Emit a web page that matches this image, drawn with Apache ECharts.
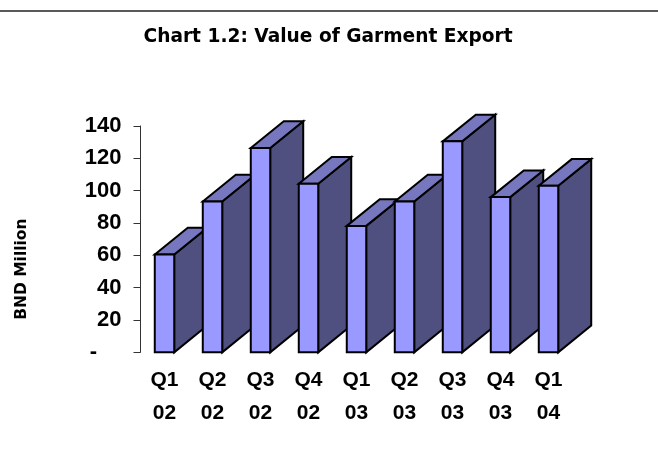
<!DOCTYPE html>
<html>
<head>
<meta charset="utf-8">
<style>html,body{margin:0;padding:0;background:#fff}#c{width:658px;height:459px}</style>
<script src="https://cdn.jsdelivr.net/npm/echarts@6/dist/echarts.min.js"></script>
</head>
<body>
<div id="c"></div>
<script>
const categories = ["Q1\n02","Q2\n02","Q3\n02","Q4\n02","Q1\n03","Q2\n03","Q3\n03","Q4\n03","Q1\n04"];
const values = [60.5,93.3,126.4,104.3,78.2,93.3,130.5,96,103];
const yTicks = {min:0,max:140,interval:20};
const titleText = "Chart 1.2: Value of Garment Export";
const yName = "BND Million";

const chart = echarts.init(document.getElementById('c'),null,{renderer:'canvas'});
const DX = 33, DY = 26.7;
const line = {stroke:'#000',lineWidth:2,lineJoin:'miter'};
function renderItem(params, api){
  const i = api.value(0), v = api.value(1);
  const top = api.coord([i,v]), base = api.coord([i,0]);
  const w = api.size([1,0])[0]*0.405;
  const x0 = top[0]-w/2, x1 = top[0]+w/2, yT = top[1], yB = base[1];
  const poly = (pts,fill)=>({type:'polygon',shape:{points:pts},style:Object.assign({fill},line)});
  return {type:'group',children:[
    poly([[x1,yT],[x1+DX,yT-DY],[x1+DX,yB-DY],[x1,yB]],'#4F4F80'),
    poly([[x0,yT],[x0+DX,yT-DY],[x1+DX,yT-DY],[x1,yT]],'#7777BF'),
    poly([[x0,yT],[x1,yT],[x1,yB],[x0,yB]],'#9999FF')
  ]};
}
chart.setOption({
  animation:false,
  backgroundColor:'#fff',
  title:{text:titleText,left:143.5,top:27.5,padding:0,
    textStyle:{fontFamily:'DejaVu Sans',fontWeight:'bold',fontSize:18.6,color:'#000'}},
  grid:{left:140.5,top:126,width:432,height:226.3,containLabel:false},
  xAxis:{type:'category',data:categories,
    axisLine:{show:false},axisTick:{show:false},
    axisLabel:{interval:0,margin:11,lineHeight:33.5,fontFamily:'Liberation Sans',fontWeight:'bold',fontSize:21,color:'#000'}},
  yAxis:{type:'value',min:yTicks.min,max:yTicks.max,interval:yTicks.interval,
    name:yName,nameLocation:'middle',nameGap:111,nameRotate:90,
    nameTextStyle:{fontFamily:'DejaVu Sans',fontWeight:'bold',fontSize:15.5,color:'#000',padding:[0,60,0,0]},
    splitLine:{show:false},
    axisLine:{show:true,lineStyle:{color:'#333',width:1}},
    axisTick:{show:true,length:7,lineStyle:{color:'#333',width:1}},
    axisLabel:{margin:19,fontFamily:'Liberation Sans',fontWeight:'bold',fontSize:22,color:'#000',
      formatter:v=>v===0?'-\u00A0\u00A0\u00A0\u00A0':String(v)}},
  series:[{type:'custom',renderItem,clip:false,data:values.map((v,i)=>[i,v]),encode:{x:0,y:1}}],
  graphic:[{type:'line',silent:true,shape:{x1:0,y1:11,x2:658,y2:11},style:{stroke:'#222',lineWidth:1.3}}]
});
</script>
</body>
</html>
